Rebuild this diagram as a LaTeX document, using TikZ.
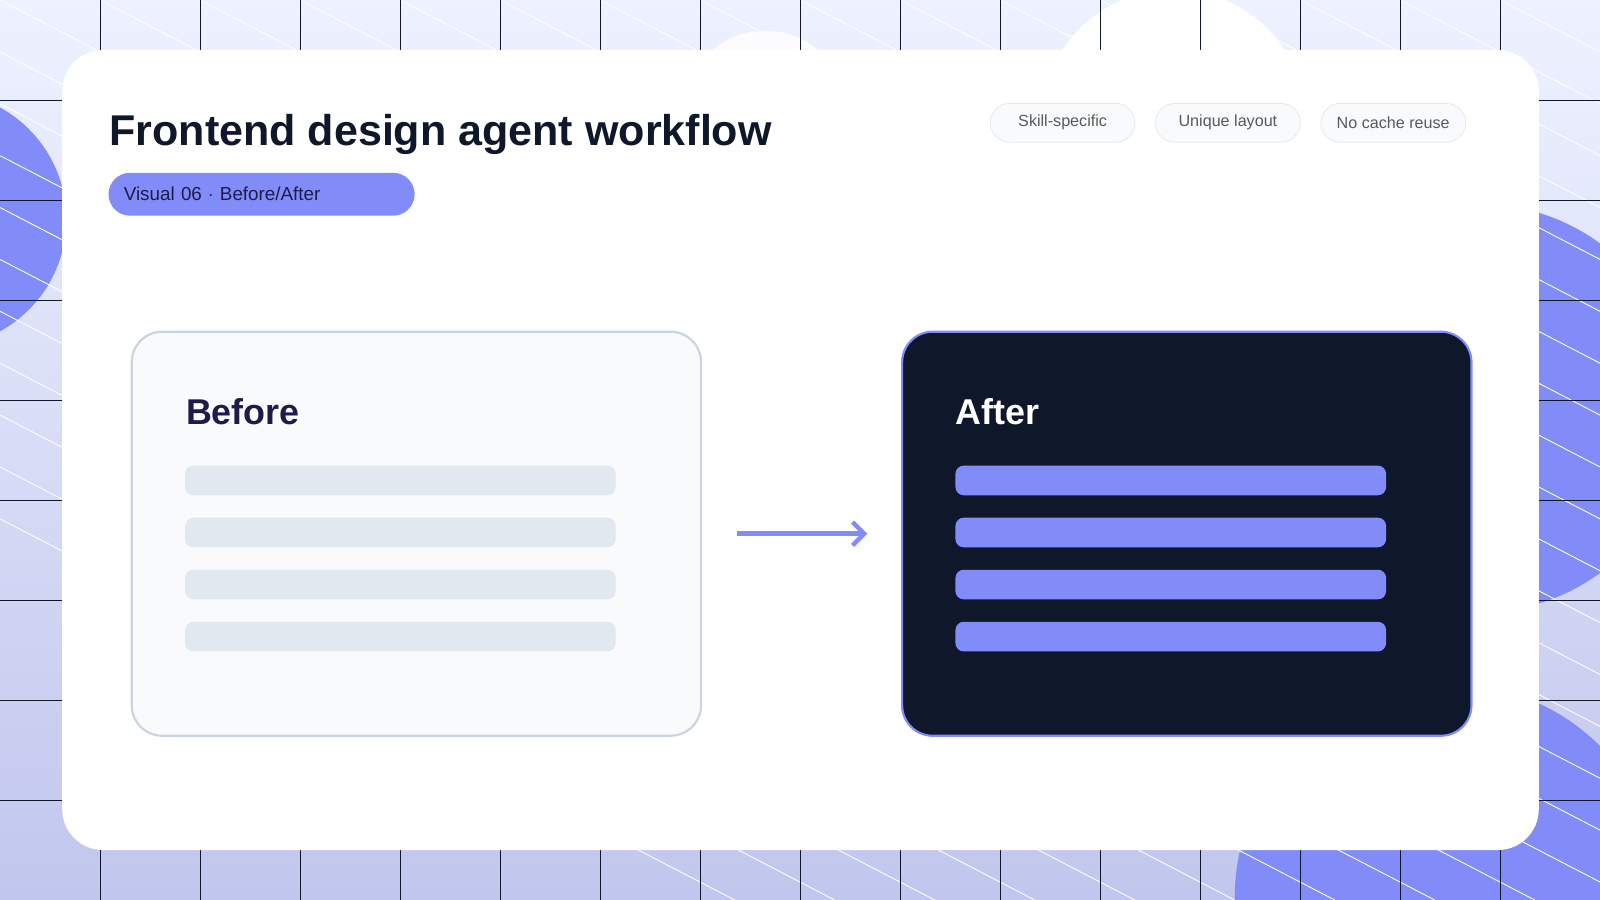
\documentclass[tikz,border=0pt]{standalone}
\usepackage{fontspec}
\setmainfont{Liberation Sans}
\usetikzlibrary{positioning,arrows.meta}
\definecolor{indigo}{HTML}{818CF8}
\definecolor{navy}{HTML}{0F172A}
\definecolor{slatebg}{HTML}{F8FAFC}
\definecolor{slateline}{HTML}{CBD5E1}
\definecolor{barcol}{HTML}{E2E8F0}
\definecolor{ink}{HTML}{1E1B4B}
\definecolor{bgtop}{HTML}{EEF2FF}
\definecolor{bgbot}{HTML}{C1C6EE}
\tikzset{
  panel/.style={rounded corners=30*0.02cm, line width=1.2pt, minimum width=558*0.02cm, minimum height=396*0.02cm, anchor=north west},
  bar/.style={rounded corners=8*0.02cm, minimum width=422*0.02cm, minimum height=29*0.02cm, anchor=north west, inner sep=0pt},
  tag/.style={draw=barcol, fill=slatebg, rounded corners=19*0.02cm, minimum width=142*0.02cm, minimum height=38*0.02cm, anchor=north west, font=\fontsize{9}{11}\selectfont, text=black!65},
}
\begin{document}
\begin{tikzpicture}[x=0.02cm, y=-0.02cm, > = Straight Barb]
	\useasboundingbox (0,0) rectangle (1568,882);
	% background
	\begin{scope}
	\clip (0,0) rectangle (1568,882);
	\shade[top color=bgtop, bottom color=bgbot] (0,0) rectangle (1568,882);
	\fill[indigo] (-60,215) circle (125);
	\fill[indigo] (1450,400) circle (200);
	\fill[indigo] (1420,880) circle (210);
	\fill[white!80!bgtop] (750,110) circle (80);
	\fill[white] (1150,120) circle (130);
	\foreach \i in {-10,...,18}
		\draw[white, line width=0.5pt] (\i*98,0) -- ++(1700,882);
	\foreach \i in {1,...,16}
		\draw[navy, line width=0.5pt] (\i*98,0) -- (\i*98,882);
	\foreach \j in {1,...,8}
		\draw[navy, line width=0.5pt] (0,\j*98) -- (1568,\j*98);
	\end{scope}
	% card
	\fill[white, rounded corners=40*0.02cm] (61,49) rectangle (1508,833);
	\node[anchor=base west, inner sep=0pt, font=\fontsize{24}{28}\selectfont\bfseries, text=navy] (title) at (107,143) {Frontend design agent workflow};
	\node[fill=indigo, rounded corners=21*0.02cm, minimum width=300*0.02cm, minimum height=42*0.02cm, anchor=north west, text=ink, font=\fontsize{10.5}{12}\selectfont, text width=270*0.02cm] (badge) at (106,169) {Visual 06 $\cdot$ Before/After};
	\node[tag] (skill) at (970,101) {Skill-specific};
	\node[tag] (unique) at (1132,101) {Unique layout};
	\node[tag] (cache) at (1294,101) {No cache reuse};
	% panels
	\node[panel, draw=slateline, fill=slatebg] (before) at (128,324) {};
	\node[panel, draw=indigo, fill=navy] (after) at (883,324) {};
	\node[anchor=base west, inner sep=0pt, font=\fontsize{20}{24}\selectfont\bfseries, text=ink] (beforetitle) at (182,416) {Before};
	\node[anchor=base west, inner sep=0pt, font=\fontsize{20}{24}\selectfont\bfseries, text=white] (aftertitle) at (936,416) {After};
	\foreach \k in {0,...,3}{
		\node[bar, fill=barcol] (bbar\k) at (181,456+51*\k) {};
		\node[bar, fill=indigo] (abar\k) at (936,456+51*\k) {};
	}
	\draw[->, indigo, line width=2.5pt, shorten <=34*0.02cm, shorten >=33*0.02cm] (before.east) -- (after.west);
\end{tikzpicture}
\end{document}
